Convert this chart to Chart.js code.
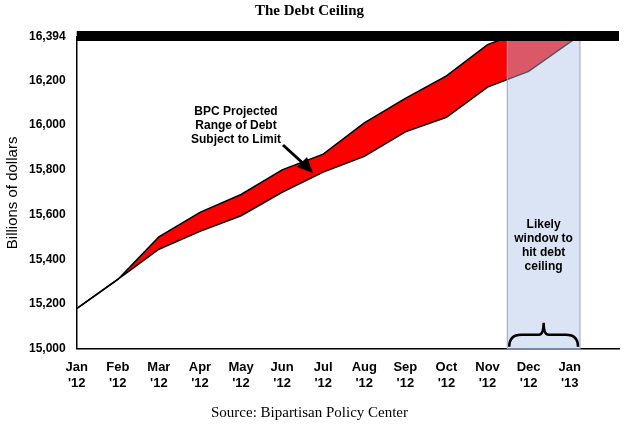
<!DOCTYPE html>
<html><head><script src="https://cdn.jsdelivr.net/npm/chart.js@4"></script>
<style>body{margin:0;background:#fff}#w{width:625px;height:430px}</style></head>
<body><div id="w"><canvas id="c"></canvas></div>
<script>
const months=["Jan","Feb","Mar","Apr","May","Jun","Jul","Aug","Sep","Oct","Nov","Dec","Jan"];
const years=["'12","'12","'12","'12","'12","'12","'12","'12","'12","'12","'12","'12","'13"];
const upperX=[0,1,2,3,4,5,6,7,8,9,10,10.5,12.2];
const upperY=[15180,15310,15500,15610,15690,15800,15870,16010,16120,16220,16360,16394,16394];
const lowerX=[0,1,2,3,4,5,6,7,8,9,10,11,12,12.2];
const lowerY=[15180,15310,15445,15525,15595,15700,15790,15860,15970,16035,16170,16240,16370,16394];
const yTicks=[15000,15200,15400,15600,15800,16000,16200,16394];
const ceiling=16394, winStart=10.48, winEnd=12.25;
const pts=(xs,ys)=>xs.map((x,i)=>({x,y:ys[i]}));
const deco={id:'deco',
 afterDatasetsDraw(ch){const {ctx,scales:{x,y},chartArea:a}=ch;
  ctx.save();
  const x1=x.getPixelForValue(winStart),x2=x.getPixelForValue(winEnd),yt=y.getPixelForValue(ceiling);
  ctx.fillStyle='rgba(176,196,230,0.45)';ctx.fillRect(x1,yt,x2-x1,a.bottom-yt);
  ctx.strokeStyle='#8fa6cc';ctx.lineWidth=1;ctx.strokeRect(x1,yt,x2-x1,a.bottom-yt);
  ctx.fillStyle='#000';ctx.fillRect(a.left,yt-6,a.right-a.left,10);
  const b=a.bottom-2,m=(x1+x2)/2;ctx.strokeStyle='#000';ctx.lineWidth=2.5;ctx.beginPath();
  ctx.moveTo(x1+2,b);ctx.quadraticCurveTo(x1+2,b-12,x1+14,b-12);ctx.lineTo(m-5,b-12);
  ctx.quadraticCurveTo(m,b-12,m,b-24);ctx.quadraticCurveTo(m,b-12,m+5,b-12);
  ctx.lineTo(x2-14,b-12);ctx.quadraticCurveTo(x2-2,b-12,x2-2,b);ctx.stroke();
  ctx.fillStyle='#000';ctx.font='bold 12px Arial, Liberation Sans';ctx.textAlign='center';
  ['Likely','window to','hit debt','ceiling'].forEach((t,i)=>ctx.fillText(t,m,228+i*14));
  ['BPC Projected','Range of Debt','Subject to Limit'].forEach((t,i)=>ctx.fillText(t,236,115+i*14));
  ctx.lineWidth=3;ctx.beginPath();ctx.moveTo(283,145);ctx.lineTo(306,166);ctx.stroke();
  ctx.beginPath();ctx.moveTo(313,173);ctx.lineTo(297,167);ctx.lineTo(307,157);ctx.closePath();ctx.fill();
  ctx.restore();}};
new Chart(document.getElementById('c'),{type:'line',
 data:{datasets:[
  {data:pts(lowerX,lowerY),borderColor:'#000',borderWidth:1.5,pointRadius:0,fill:false,tension:0},
  {data:pts(upperX,upperY),borderColor:'#000',borderWidth:1.5,pointRadius:0,fill:'-1',backgroundColor:'#f00',tension:0}]},
 plugins:[deco],
 options:{responsive:true,maintainAspectRatio:false,animation:false,
  layout:{padding:{right:6,top:0,bottom:0}},
  plugins:{legend:{display:false},tooltip:{enabled:false},
   title:{display:true,text:'The Debt Ceiling',font:{family:'Liberation Serif',size:15,weight:'bold'},color:'#000',padding:{top:2,bottom:17}},
   subtitle:{display:true,position:'bottom',text:'Source: Bipartisan Policy Center',font:{family:'Liberation Serif',size:15},color:'#000',padding:{top:10,bottom:8}}},
  scales:{
   x:{type:'linear',min:0,max:13.2,border:{color:'#000',width:1.5},grid:{display:false},
    afterBuildTicks:s=>{s.ticks=months.map((m,i)=>({value:i}))},
    ticks:{autoSkip:false,maxRotation:0,color:'#000',font:{family:'Arial',size:13,weight:'bold'},
     callback:(v)=>[months[v],years[v]]}},
   y:{min:15000,max:16394,border:{color:'#000',width:1.5},grid:{display:false},
    afterBuildTicks:s=>{s.ticks=yTicks.map(v=>({value:v}))},
    ticks:{color:'#000',font:{family:'Arial',size:12,weight:'bold'},callback:v=>v.toLocaleString('en-US')},
    title:{display:true,text:'Billions of dollars',font:{family:'Arial',size:15},color:'#000'}}}}});
</script></body></html>
